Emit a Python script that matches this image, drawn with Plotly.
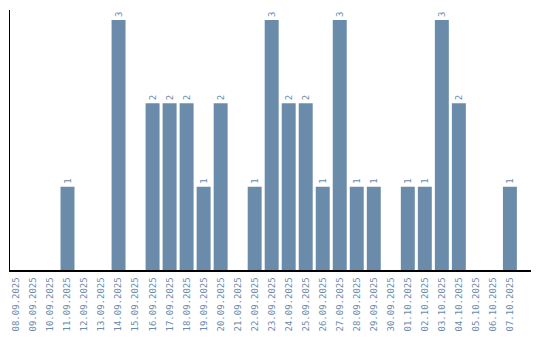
import plotly.graph_objects as go

dates = ["08.09.2025", "09.09.2025", "10.09.2025", "11.09.2025", "12.09.2025",
         "13.09.2025", "14.09.2025", "15.09.2025", "16.09.2025", "17.09.2025",
         "18.09.2025", "19.09.2025", "20.09.2025", "21.09.2025", "22.09.2025",
         "23.09.2025", "24.09.2025", "25.09.2025", "26.09.2025", "27.09.2025",
         "28.09.2025", "29.09.2025", "30.09.2025", "01.10.2025", "02.10.2025",
         "03.10.2025", "04.10.2025", "05.10.2025", "06.10.2025", "07.10.2025"]
counts = [0, 0, 0, 1, 0, 0, 3, 0, 2, 2, 2, 1, 2, 0, 1, 3, 2, 2, 1, 3, 1, 1, 0, 1, 1, 3, 2, 0, 0, 1]

idx = list(range(len(dates)))
labels = [str(c) if c > 0 else "" for c in counts]

font_color = "#6b8bab"
bar_color = "#6a8caa"
mono = "DejaVu Sans Mono"

fig = go.Figure(go.Bar(
    x=idx, y=counts, width=0.82,
    marker=dict(color=bar_color, line=dict(width=0)),
    text=labels, textposition="outside", textangle=-90,
    textfont=dict(family=mono, size=9, color=font_color),
    cliponaxis=False,
))

fig.update_layout(
    width=540, height=340,
    margin=dict(l=10, r=9, t=10, b=70),
    paper_bgcolor="white", plot_bgcolor="white",
    showlegend=False,
    xaxis=dict(
        range=[-0.38, 30.24], tickmode="array", tickvals=idx, ticktext=dates,
        tickangle=-90, tickfont=dict(family=mono, size=9, color=font_color),
        showline=True, linecolor="black", linewidth=1.5, showgrid=False,
        zeroline=False, ticks="outside", ticklen=2, tickcolor="rgba(0,0,0,0)",
    ),
    yaxis=dict(
        range=[0, 3.12], showticklabels=False, showgrid=False, zeroline=False,
        showline=True, linecolor="black", linewidth=1, ticks="",
    ),
)

fig.write_html("out.html")
